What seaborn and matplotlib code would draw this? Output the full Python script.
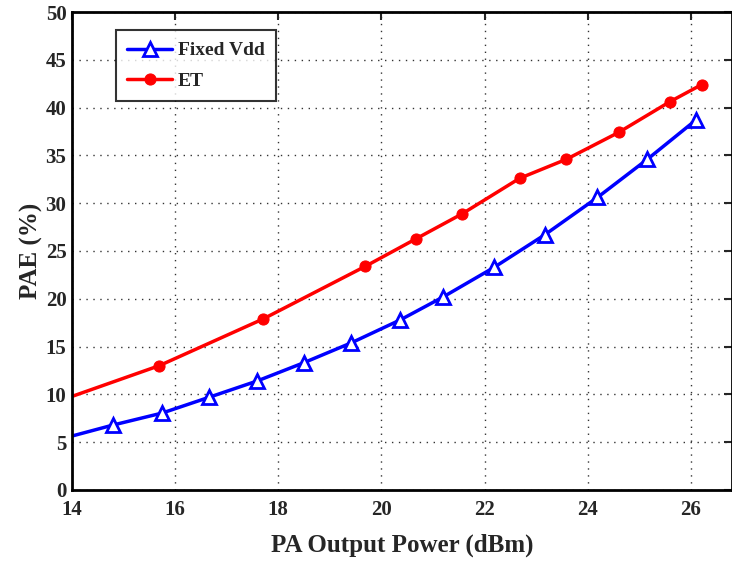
import matplotlib
matplotlib.use("Agg")
import matplotlib.pyplot as plt
import seaborn as sns
import pandas as pd

# Datos
fixed_x = [13.9, 14.80, 15.75, 16.66, 17.59, 18.49, 19.42, 20.37, 21.20, 22.19, 23.17, 24.19, 25.16, 26.10]
fixed_y = [5.5, 6.8, 8.05, 9.7, 11.4, 13.3, 15.4, 17.8, 20.2, 23.3, 26.7, 30.6, 34.6, 38.7]
et_x = [13.9, 15.69, 17.71, 19.69, 20.68, 21.57, 22.68, 23.59, 24.60, 25.59, 26.21]
et_y = [9.6, 13.0, 17.9, 23.4, 26.3, 28.9, 32.6, 34.6, 37.4, 40.6, 42.4]
x_ticks = [14, 16, 18, 20, 22, 24, 26]
y_ticks = [0, 5, 10, 15, 20, 25, 30, 35, 40, 45, 50]

sns.set_style("white")
plt.rcParams['font.family'] = ['Liberation Serif', 'DejaVu Serif']
plt.rcParams['font.weight'] = 'bold'

fig = plt.figure(figsize=(7.32, 5.61), dpi=100)
ax = fig.add_axes([0.0984, 0.1266, 0.9016, 0.852])

df_fixed = pd.DataFrame({"x": fixed_x, "y": fixed_y})
df_et = pd.DataFrame({"x": et_x, "y": et_y})

sns.lineplot(data=df_fixed, x="x", y="y", ax=ax, color="blue", lw=2.5,
             marker="^", markersize=10, markerfacecolor="white",
             markeredgecolor="blue", markeredgewidth=2,
             markevery=slice(1, None), label="Fixed Vdd", sort=False)
sns.lineplot(data=df_et, x="x", y="y", ax=ax, color="red", lw=2.5,
             marker="o", markersize=8, markerfacecolor="red",
             markeredgecolor="red", markevery=slice(1, None), label="ET", sort=False)

ax.set_xlim(14, 26.8)
ax.set_ylim(0, 50)
ax.set_xticks(x_ticks)
ax.set_yticks(y_ticks)
ax.tick_params(direction="in", length=6, width=1.5, top=True, right=True, labelsize=15)
ax.tick_params(axis="x", pad=7)
ax.tick_params(axis="y", pad=4)
for lbl in ax.get_xticklabels() + ax.get_yticklabels():
    lbl.set_fontweight("bold")
ax.grid(True, linestyle=(0, (1, 4)), color="black", linewidth=1, alpha=0.8)
for s in ax.spines.values():
    s.set_linewidth(2)
    s.set_color("black")

ax.set_xlabel("PA Output Power (dBm)", fontsize=18, fontweight="bold", labelpad=10)
ax.set_ylabel("PAE (%)", fontsize=18, fontweight="bold", labelpad=2)

leg = ax.legend(loc="upper left", bbox_to_anchor=(0.066, 0.962), fontsize=14,
                frameon=True, fancybox=False, handlelength=2.3, handletextpad=0.3,
                borderpad=0.6, labelspacing=0.65, borderaxespad=0)
leg.get_frame().set_edgecolor("black")
leg.get_frame().set_linewidth(1.5)

fig.savefig("out.png", dpi=100)
